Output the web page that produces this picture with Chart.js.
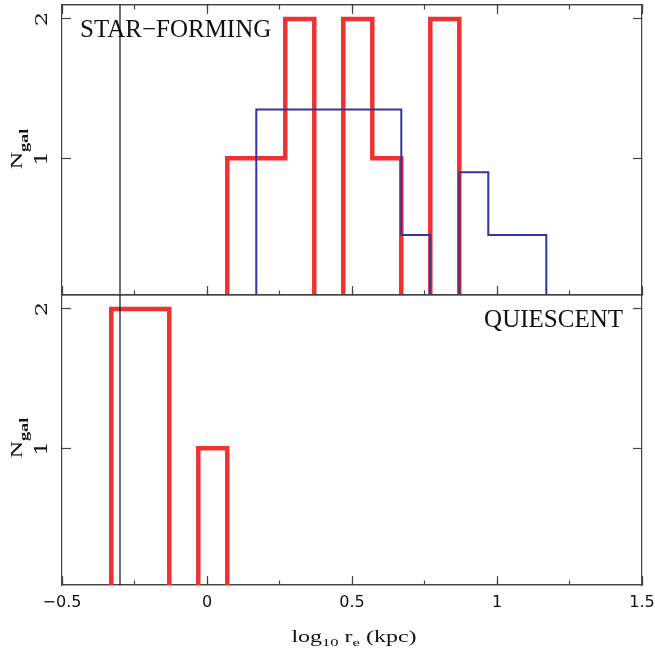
<!DOCTYPE html>
<html>
<head>
<meta charset="utf-8">
<script src="https://cdn.jsdelivr.net/npm/chart.js@4.4.1/dist/chart.umd.min.js"></script>
<style>
  body { margin: 0; background: #fff; }
  #wrap { position: relative; width: 655px; height: 656px; overflow: hidden; }
  canvas { position: absolute; left: 0; }
  .lbl { position: absolute; font-family: 'Liberation Serif', serif; color: #111; white-space: nowrap; }
  .sub { font-size: 11px; position: relative; top: 4px; }
  .ylab { width: 60px; height: 20px; line-height: 20px; font-size: 17px; text-align: center; transform: rotate(-90deg) scaleX(1.4); }
  .ylab .sub { font-size: 13px; top: 6px; font-weight: bold; }
</style>
</head>
<body>
<div id="wrap">
  <canvas id="topChart" width="655" height="300" style="top:0"></canvas>
  <canvas id="bottomChart" width="655" height="366" style="top:290px"></canvas>
  <div class="lbl" style="left:80px; top:16px; font-size:25px; line-height:25px">STAR−FORMING</div>
  <div class="lbl" style="right:32px; top:306px; font-size:25px; line-height:25px">QUIESCENT</div>
  <div class="lbl ylab" style="left:-13px; top:139px">N<span class="sub">gal</span></div>
  <div class="lbl ylab" style="left:-13px; top:428px">N<span class="sub">gal</span></div>
  <div class="lbl" style="left:254px; width:200px; top:629px; text-align:center; font-size:16px; line-height:16px; transform:scaleX(1.5)">log<span class="sub">10</span> r<span class="sub">e</span> (kpc)</div>
</div>
<script>
// histogram bin edges and counts
const sfRedEdges = [0.07, 0.17, 0.27, 0.37, 0.47, 0.57, 0.67, 0.77, 0.87];
const sfRedCounts = [1, 1, 2, 0, 2, 1, 0, 2];
const sfBlueEdges = [0.17, 0.67, 0.77, 0.87, 0.97, 1.17];
const sfBlueCounts = [1.35, 0.45, 0, 0.9, 0.45];
const qRedEdges = [-0.33, -0.13, -0.03, 0.07];
const qRedCounts = [2, 0, 1];
const sizeCut = -0.3;
const yTicks = [1, 2];
const xLabelTicks = [-0.5, 0, 0.5, 1, 1.5];

const axisColor = '#444';
const red = '#ee3232';
const blue = '#34349c';

// step outline: start at baseline, one point per bin, close back to baseline
function hist(edges, counts) {
  const pts = [{x: edges[0], y: 0}];
  counts.forEach((c, i) => pts.push({x: edges[i], y: c}));
  pts.push({x: edges[edges.length - 1], y: 0});
  return pts;
}

function histSet(edges, counts, color, width) {
  return {
    data: hist(edges, counts),
    borderColor: color,
    borderWidth: width,
    stepped: true,
    pointRadius: 0,
    borderJoinStyle: 'miter',
    borderCapStyle: 'butt',
    clip: 0
  };
}

function cutLine() {
  return {
    data: [{x: sizeCut, y: 0}, {x: sizeCut, y: 2.1}],
    borderColor: '#111',
    borderWidth: 1.2,
    pointRadius: 0,
    clip: 0
  };
}

function fmt(v) {
  return String(v).replace('-', '\u2212');
}

// fixed axis sizes, and no extra room reserved for overhanging labels
function fixSize(s, w, h) {
  if (w !== null) s.width = w;
  if (h !== null) s.height = h;
  s.paddingLeft = s.paddingRight = s.paddingTop = s.paddingBottom = 0;
}

function xAxis(position, step, tick, height, labels) {
  return {
    type: 'linear',
    position: position,
    min: -0.5,
    max: 1.5,
    ticks: {
      display: labels,
      stepSize: step,
      maxRotation: 0,
      padding: 17,
      color: '#111',
      font: {family: 'DejaVu Sans', size: 16},
      callback: v => xLabelTicks.includes(v) ? fmt(v) : ''
    },
    grid: {drawOnChartArea: false, drawTicks: tick > 0, tickLength: -tick, tickColor: axisColor, tickWidth: 1.2},
    border: {color: axisColor, width: 1.2},
    afterFit: s => fixSize(s, null, height)
  };
}

function yAxis(position, width) {
  return {
    type: 'linear',
    position: position,
    min: 0.02,
    max: 2.1,
    afterBuildTicks: s => { s.ticks = yTicks.map(v => ({value: v})); },
    ticks: {display: false},
    grid: {drawOnChartArea: false, tickLength: -9, tickColor: axisColor, tickWidth: 1.2},
    border: {color: axisColor, width: 1.2},
    afterFit: s => fixSize(s, width, null)
  };
}

// y tick labels are turned a quarter turn, like the axis title
const rotatedYLabels = {
  id: 'rotatedYLabels',
  afterDraw(chart) {
    const s = chart.scales.y;
    const ctx = chart.ctx;
    ctx.save();
    ctx.fillStyle = '#111';
    ctx.font = '17px "DejaVu Serif"';
    ctx.textAlign = 'center';
    ctx.textBaseline = 'middle';
    s.ticks.forEach(t => {
      ctx.save();
      ctx.translate(43, s.getPixelForValue(t.value));
      ctx.rotate(-Math.PI / 2);
      ctx.scale(1.35, 1);
      ctx.fillText(String(t.value), 0, 0);
      ctx.restore();
    });
    ctx.restore();
  }
};

function panel(id, datasets, isBottom) {
  const scales = {
    x: xAxis('bottom', 0.5, 9, isBottom ? 71 : 5, isBottom),
    xMinor: xAxis('bottom', 0.25, 4.5, 0, false),
    xTop: xAxis('top', 0.5, isBottom ? 0 : 9, 0, false),
    xTopMinor: xAxis('top', 0.25, isBottom ? 0 : 4.5, 0, false),
    y: yAxis('left', 62),
    yRight: yAxis('right', 13)
  };
  scales.xMinor.weight = -1;
  scales.xTopMinor.weight = -1;
  return new Chart(id, {
    type: 'line',
    data: {datasets: datasets},
    options: {
      responsive: false,
      animation: false,
      parsing: false,
      layout: {padding: {top: 5, bottom: 0, left: 0, right: 0}},
      plugins: {legend: {display: false}, tooltip: {enabled: false}},
      scales: scales
    },
    plugins: [rotatedYLabels]
  });
}

panel('topChart', [
  cutLine(),
  histSet(sfBlueEdges, sfBlueCounts, blue, 2),
  histSet(sfRedEdges, sfRedCounts, red, 4.5)
], false);

panel('bottomChart', [
  cutLine(),
  histSet(qRedEdges, qRedCounts, red, 4.5)
], true);
</script>
</body>
</html>
